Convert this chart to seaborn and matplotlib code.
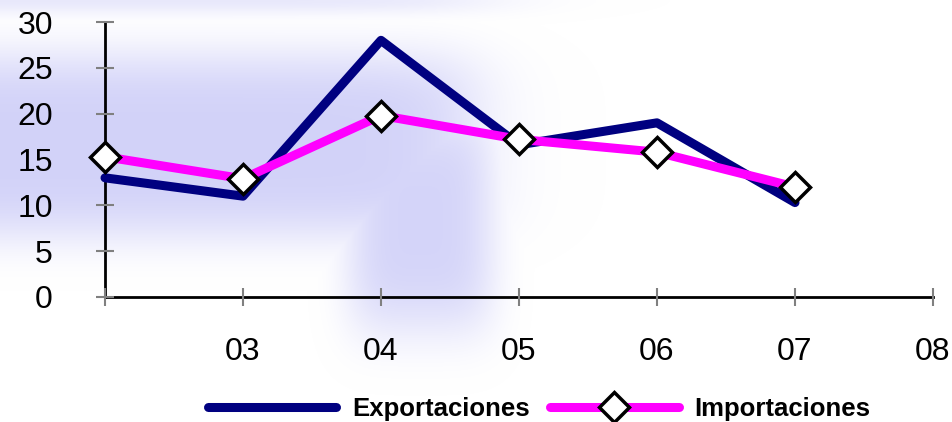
import numpy as np
import pandas as pd
import matplotlib
matplotlib.use("Agg")
import matplotlib.pyplot as plt
import seaborn as sns

# ---- data ----
years = ["02", "03", "04", "05", "06", "07"]
exportaciones = [13.0, 11.0, 28.0, 16.6, 19.0, 10.3]
importaciones = [15.3, 12.9, 19.8, 17.2, 15.8, 12.0]
tick_labels = ["", "03", "04", "05", "06", "07", "08"]
y_ticks = [0, 5, 10, 15, 20, 25, 30]

sns.set_theme(style="white")
plt.rcParams['font.family'] = ['Liberation Sans', 'DejaVu Sans']

W, H = 952, 422
fig = plt.figure(figsize=(W / 100, H / 100), dpi=100)

# decorative lavender background blobs
bg = fig.add_axes([0, 0, 1, 1], zorder=0)
yy, xx = np.mgrid[0:H, 0:W]
band = np.exp(-(((yy - 145) / 95.0) ** 4)) * (1 / (1 + np.exp((xx - 470) / 25.0)))
blob = np.exp(-(((xx - 420) / 75.0) ** 4) - (((yy - 220) / 115.0) ** 4))
top = np.exp(-((yy - 0) / 14.0) ** 2) * (1 / (1 + np.exp((xx - 480) / 40.0))) * 0.45
alpha = np.clip(np.maximum(np.maximum(band * 0.9, blob * 0.85), top), 0, 1)
rgba = np.zeros((H, W, 4))
rgba[..., 0] = 205 / 255
rgba[..., 1] = 205 / 255
rgba[..., 2] = 248 / 255
rgba[..., 3] = alpha
bg.imshow(rgba, aspect="auto", interpolation="bilinear")
bg.set_axis_off()

ax = fig.add_axes([105 / W, (H - 297) / H, (933 - 105) / W, (297 - 22) / H], zorder=1)
ax.patch.set_alpha(0)

df = pd.DataFrame({"year": years, "pos": range(len(years)),
                   "Exportaciones": exportaciones, "Importaciones": importaciones})

sns.lineplot(data=df, x="pos", y="Exportaciones", ax=ax, color="#000080",
             linewidth=6.5, label="Exportaciones", sort=False)
sns.lineplot(data=df, x="pos", y="Importaciones", ax=ax, color="#FF00FF",
             linewidth=6.5, marker="D", markersize=15, markerfacecolor="white",
             markeredgecolor="black", markeredgewidth=2.5,
             label="Importaciones", sort=False)
for ln in ax.lines:
    ln.set_clip_on(False)

ax.set_xlim(0, 6)
ax.set_ylim(0, 30)
ax.set_xticks(range(len(tick_labels)))
ax.set_xticklabels(tick_labels)
ax.set_yticks(y_ticks)
ax.set_xlabel("")
ax.set_ylabel("")

for s in ["top", "right"]:
    ax.spines[s].set_visible(False)
for s in ["left", "bottom"]:
    ax.spines[s].set_visible(True)
    ax.spines[s].set_color("black")
    ax.spines[s].set_linewidth(2)
    ax.spines[s].set_zorder(0.5)

ax.tick_params(axis="both", bottom=True, left=True, direction="inout",
               length=13, width=1.5, color="#808080", labelsize=23,
               labelcolor="black")
ax.tick_params(axis="y", pad=31)
ax.tick_params(axis="x", pad=22)
ax.grid(False)

handles, labels = ax.get_legend_handles_labels()
ax.legend_.remove()
fig.legend(handles, labels, loc="center", bbox_to_anchor=(539 / W, 1 - 409 / H),
           ncol=2, frameon=False, handlelength=5.0, columnspacing=0.8,
           handletextpad=0.6, numpoints=1, labelcolor="black",
           prop={"weight": "bold", "size": 18.5})

fig.savefig("out.png", dpi=100)
